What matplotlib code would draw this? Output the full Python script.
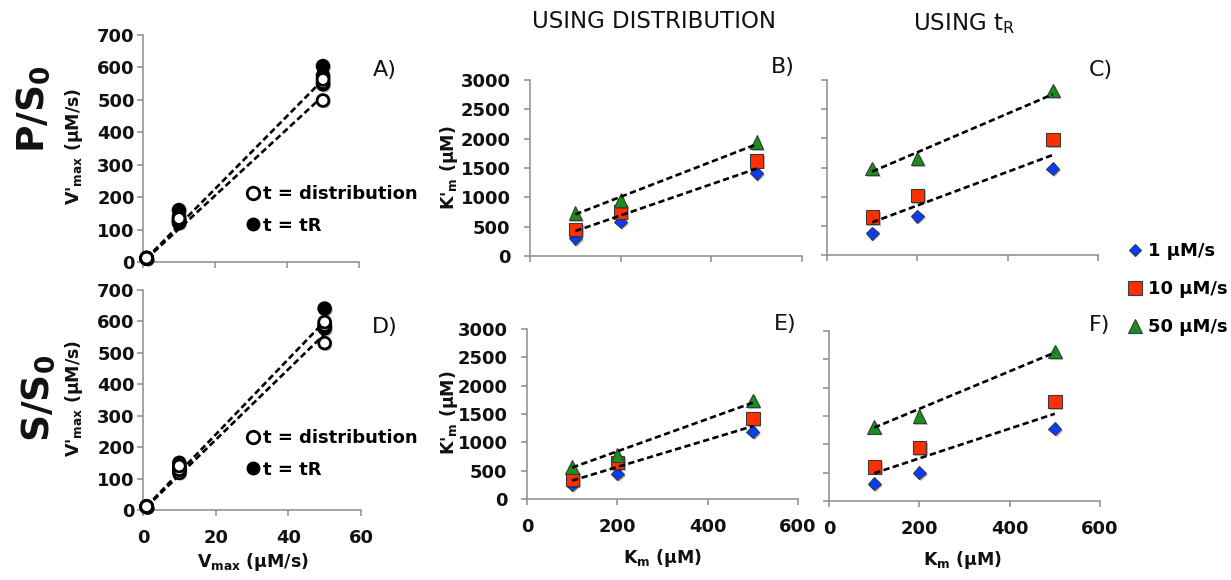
import matplotlib
matplotlib.use("Agg")
import matplotlib.pyplot as plt
import matplotlib.patheffects as pe
from matplotlib.lines import Line2D

# ---------------- data ----------------
# left column: V'max versus Vmax (three Km values per Vmax)
vmax_pts = [1, 1, 1, 10, 10, 10, 50, 50, 50]
ps_dist = [10, 11, 12, 120, 127, 134, 498, 553, 563]
ps_tr = [11, 12, 13, 125, 140, 160, 548, 575, 604]
ss_dist = [9, 10, 11, 118, 128, 140, 531, 587, 598]
ss_tr = [10, 11, 12, 125, 135, 150, 578, 590, 641]

trend_v = [1, 50]
ps_trend_hi = [12, 562]
ps_trend_lo = [10, 512]
ss_trend_hi = [12, 600]
ss_trend_lo = [10, 560]

# K'm versus Km for 1, 10 and 50 uM/s
km = [100, 200, 500]
B_1 = [300, 580, 1410]
B_10 = [450, 750, 1620]
B_50 = [730, 950, 1940]
C_1 = [375, 665, 1480]
C_10 = [650, 1020, 1980]
C_50 = [1480, 1655, 2820]
E_1 = [250, 445, 1185]
E_10 = [350, 645, 1420]
E_50 = [570, 780, 1740]
F_1 = [305, 495, 1275]
F_10 = [600, 940, 1760]
F_50 = [1310, 1500, 2640]

trend_km = [100, 500]
B_hi, B_lo = [710, 1905], [425, 1490]
C_hi, C_lo = [1430, 2755], [560, 1715]
E_hi, E_lo = [555, 1700], [325, 1285]
F_hi, F_lo = [1295, 2620], [490, 1540]

rate_labels = ["1 µM/s", "10 µM/s", "50 µM/s"]
v_ticks = [0, 20, 40, 60]
v_yticks = [0, 100, 200, 300, 400, 500, 600, 700]
k_ticks = [0, 200, 400, 600]
k_yticks = [0, 500, 1000, 1500, 2000, 2500, 3000]

# ---------------- styling ----------------
W, H = 1231, 580
fig = plt.figure(figsize=(W / 100, H / 100), dpi=100)
plt.rcParams['font.family'] = ['DejaVu Sans']
plt.rcParams['mathtext.fontset'] = 'dejavusans'


def box(l, t, r, b):
    return [l / W, 1 - b / H, (r - l) / W, (b - t) / H]


def fx(x):
    return x / W


def fy(y):
    return 1 - y / H


AXC = '#8c8c8c'
BLUE, RED, GREEN = '#0a3cff', '#ff3000', '#16901c'
EDGE = '#3a3a3a'
shadow = [pe.SimplePatchShadow(offset=(1.3, -1.3), shadow_rgbFace='k', alpha=0.28),
          pe.Normal()]
dash = (0, (2.4, 1.3))


def style(ax, xlim, xticks, ylim, yticks, show_x, show_y, ypad):
    for s in ('top', 'right'):
        ax.spines[s].set_visible(False)
    for s in ('left', 'bottom'):
        ax.spines[s].set_color(AXC)
        ax.spines[s].set_linewidth(1.1)
    ax.set_xlim(xlim)
    ax.set_ylim(ylim)
    ax.set_xticks(xticks)
    ax.set_yticks(yticks)
    ax.tick_params(direction='out', length=4.5, width=1.1, color=AXC,
                   labelsize=13, labelcolor='#111111')
    ax.tick_params(axis='y', pad=ypad)
    ax.tick_params(axis='x', pad=9)
    if not show_x:
        ax.set_xticklabels([])
    if not show_y:
        ax.set_yticklabels([])
    for lbl in ax.get_xticklabels() + ax.get_yticklabels():
        lbl.set_fontweight('bold')
    ax.patch.set_alpha(0)


def vpanel(ax, dist, tr, hi, lo, show_x):
    style(ax, (0, 60), v_ticks, (0, 700), v_yticks, show_x, True, 1.5)
    ax.plot(trend_v, hi, color='k', lw=1.9, ls=dash, zorder=2)
    ax.plot(trend_v, lo, color='k', lw=1.9, ls=dash, zorder=2)
    ax.plot(vmax_pts, tr, ls='none', marker='o', ms=9, mfc='k', mec='k',
            mew=1.5, clip_on=False, zorder=3, path_effects=shadow)
    ax.plot(vmax_pts, dist, ls='none', marker='o', ms=8.5, mfc='white', mec='k',
            mew=2.0, clip_on=False, zorder=4, path_effects=shadow)


def kpanel(ax, s1, s10, s50, hi, lo, show_x, show_y):
    style(ax, (0, 600), k_ticks, (0, 3000), k_yticks, show_x, show_y, 9.5)
    ax.plot(km, s1, ls='none', marker='D', ms=6.6, mfc=BLUE, mec=EDGE, mew=0.8,
            clip_on=False, zorder=3, path_effects=shadow)
    ax.plot(km, s10, ls='none', marker='s', ms=9.6, mfc=RED, mec=EDGE, mew=0.8,
            clip_on=False, zorder=4, path_effects=shadow)
    ax.plot(km, s50, ls='none', marker='^', ms=9.8, mfc=GREEN, mec=EDGE, mew=0.8,
            clip_on=False, zorder=5, path_effects=shadow)
    ax.plot(trend_km, hi, color='k', lw=1.9, ls=dash, zorder=6)
    ax.plot(trend_km, lo, color='k', lw=1.9, ls=dash, zorder=6)


axA = fig.add_axes(box(143, 35, 359, 262))
axD = fig.add_axes(box(143, 290, 361, 510))
axB = fig.add_axes(box(530, 80, 802, 256))
axC = fig.add_axes(box(827, 80, 1098, 255))
axE = fig.add_axes(box(527, 329, 798, 499))
axF = fig.add_axes(box(829, 331, 1100, 501))

vpanel(axA, ps_dist, ps_tr, ps_trend_hi, ps_trend_lo, False)
vpanel(axD, ss_dist, ss_tr, ss_trend_hi, ss_trend_lo, True)
kpanel(axB, B_1, B_10, B_50, B_hi, B_lo, False, True)
kpanel(axC, C_1, C_10, C_50, C_hi, C_lo, False, False)
kpanel(axE, E_1, E_10, E_50, E_hi, E_lo, True, True)
kpanel(axF, F_1, F_10, F_50, F_hi, F_lo, True, False)

# axis labels
lab = dict(fontsize=12.5, fontweight='bold', color='#111111')
for ax, yc in ((axA, 146), (axD, 398)):
    ax.set_ylabel(r"V'$_\mathbf{max}$ (µM/s)", **lab)
    ax.yaxis.set_label_coords(fx(74), fy(yc), transform=fig.transFigure)
for ax, yc in ((axB, 168), (axE, 413)):
    ax.set_ylabel(r"K'$_\mathbf{m}$ (µM)", **lab)
    ax.yaxis.set_label_coords(fx(449), fy(yc), transform=fig.transFigure)
axD.set_xlabel(r"V$_\mathbf{max}$ (µM/s)", **lab)
axD.xaxis.set_label_coords(fx(253), fy(562), transform=fig.transFigure)
axE.set_xlabel(r"K$_\mathbf{m}$ (µM)", **lab)
axE.xaxis.set_label_coords(fx(663), fy(558), transform=fig.transFigure)
axF.set_xlabel(r"K$_\mathbf{m}$ (µM)", **lab)
axF.xaxis.set_label_coords(fx(963), fy(560), transform=fig.transFigure)
for ax in (axD, axE, axF):
    ax.xaxis.label.set_va('center')
for ax in (axA, axD, axB, axE):
    ax.yaxis.label.set_va('center')

# column titles and row labels
fig.text(fx(654), fy(22), "USING DISTRIBUTION", fontsize=16.5, ha='center',
         va='center', color='#111111')
fig.text(fx(964), fy(24), r"USING t$_\mathregular{R}$", fontsize=16.5,
         ha='center', va='center', color='#111111')
fig.text(fx(33), fy(109), r"$\mathbf{P/S_0}$", fontsize=27, rotation=90,
         ha='center', va='center', color='#111111')
fig.text(fx(38), fy(398), r"$\mathbf{S/S_0}$", fontsize=27, rotation=90,
         ha='center', va='center', color='#111111')

# panel letters
for txt, x, y in (("A)", 385, 70), ("B)", 783, 67), ("C)", 1101, 70),
                  ("D)", 385, 327), ("E)", 785, 324), ("F)", 1100, 325)):
    fig.text(fx(x), fy(y), txt, fontsize=16, ha='center', va='center',
             color='#111111')

# legends
circ_h = [Line2D([], [], ls='none', marker='o', ms=9, mfc='white', mec='k', mew=2),
          Line2D([], [], ls='none', marker='o', ms=9, mfc='k', mec='k')]
circ_l = ["t = distribution", "t = tR"]
for yc in (210, 454):
    fig.legend(circ_h, circ_l, loc='center left',
               bbox_to_anchor=(fx(246), fy(yc)), frameon=False, borderpad=0,
               borderaxespad=0, handlelength=0.8, handletextpad=0.15,
               labelspacing=0.75, prop=dict(size=13, weight='bold'))

rate_h = [Line2D([], [], ls='none', marker='D', ms=6.6, mfc=BLUE, mec=EDGE, mew=0.8),
          Line2D([], [], ls='none', marker='s', ms=9.6, mfc=RED, mec=EDGE, mew=0.8),
          Line2D([], [], ls='none', marker='^', ms=9.8, mfc=GREEN, mec=EDGE, mew=0.8)]
fig.legend(rate_h, rate_labels, loc='center left',
           bbox_to_anchor=(fx(1127), fy(289)), frameon=False, borderpad=0,
           borderaxespad=0, handlelength=0.9, handletextpad=0.25,
           labelspacing=1.1, prop=dict(size=13, weight='bold'))

fig.savefig("out.png", dpi=100)
